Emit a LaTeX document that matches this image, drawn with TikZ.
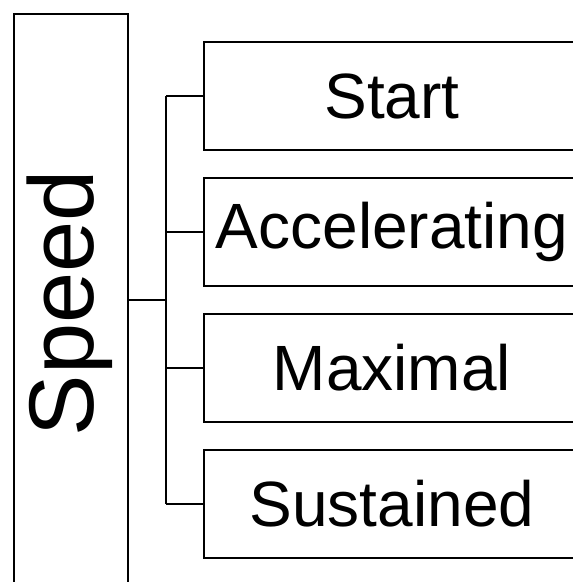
\documentclass[tikz,border=0pt]{standalone}
\usepackage{fontspec}
\setmainfont{Liberation Sans}
\begin{document}
\begin{tikzpicture}[x=1pt,y=-1pt,
  boxline/.style={line width=2.2pt, draw=black},
  bigbox/.style={boxline, rectangle, minimum width=114pt, minimum height=572pt, inner sep=0pt},
  itembox/.style={boxline, rectangle, minimum width=376pt, minimum height=108pt, inner sep=0pt,
     font=\fontsize{64}{70}\selectfont},
  conn/.style={line width=1.6pt, draw=black}]
\useasboundingbox (0,0) rectangle (573,582);
\clip (0,0) rectangle (573,582);
\node[bigbox] (speed) at (71,300) {};
\node[rotate=90, font=\fontsize{92}{100}\selectfont, inner sep=0pt] (speedlabel) at (70,303) {Speed};
\node[itembox] (start) at (392,96) {Start};
\node[itembox] (accel) at (392,232) {Accelerating};
\node[itembox] (maxi) at (392,368) {Maximal};
\node[itembox] (sust) at (392,504) {Sustained};
\coordinate (j) at (166,300);
\draw[conn] (speed.east) -- (j);
\draw[conn] (start.west -| j) -- (sust.west -| j);
\draw[conn] (start.west -| j) -- (start.west);
\draw[conn] (accel.west -| j) -- (accel.west);
\draw[conn] (maxi.west -| j) -- (maxi.west);
\draw[conn] (sust.west -| j) -- (sust.west);
\end{tikzpicture}
\end{document}
